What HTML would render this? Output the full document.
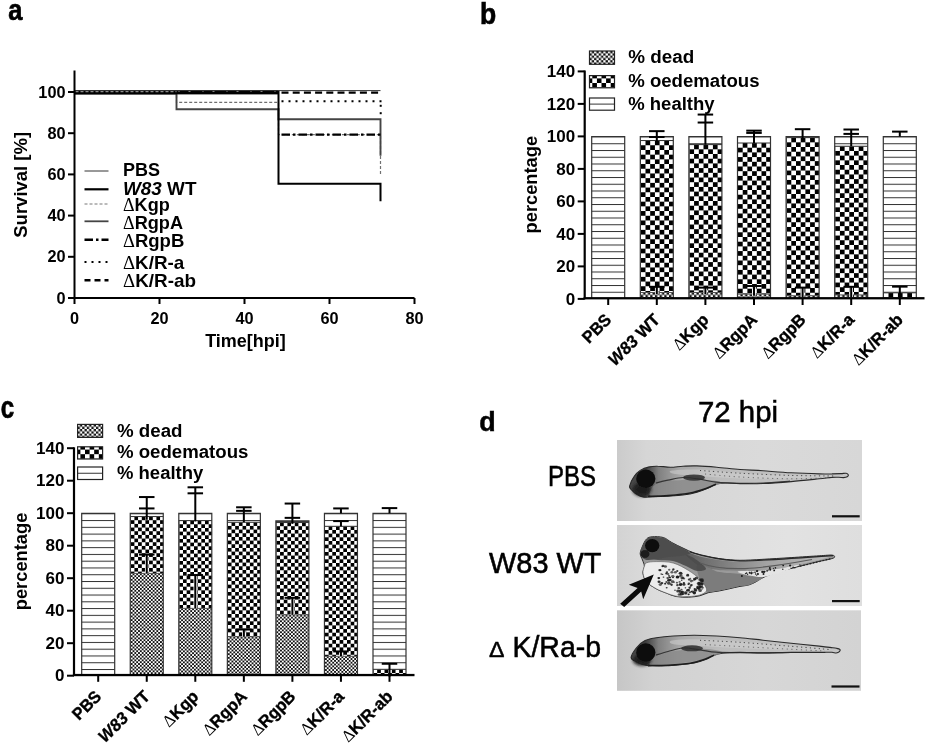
<!DOCTYPE html>
<html lang="en"><head><meta charset="utf-8"><title>Figure</title>
<style>html,body{margin:0;padding:0;background:#fff;}svg{display:block;font-family:'Liberation Sans', Arial, sans-serif;}</style>
</head><body>
<svg width="926" height="744" viewBox="0 0 926 744">
<defs>
<pattern id="p1" patternUnits="userSpaceOnUse" x="589.50" y="51.00" width="4.600" height="4.600"><rect width="4.600" height="4.600" fill="#fff"/><rect x="2.300" y="0" width="2.300" height="2.300" fill="#111"/><rect x="0" y="2.300" width="2.300" height="2.300" fill="#111"/></pattern>
<pattern id="p2" patternUnits="userSpaceOnUse" x="587.70" y="73.80" width="9.200" height="9.200"><rect width="9.200" height="9.200" fill="#fff"/><rect x="4.600" y="0" width="4.600" height="4.600" fill="#000"/><rect x="0" y="4.600" width="4.600" height="4.600" fill="#000"/></pattern>
<pattern id="p3" patternUnits="userSpaceOnUse" x="589.50" y="103.60" width="10" height="50.000"><rect width="10" height="50.000" fill="#fff"/><rect x="0" y="0" width="10" height="1" fill="#333"/></pattern>
<pattern id="p4" patternUnits="userSpaceOnUse" x="591.70" y="136.50" width="10" height="6.750"><rect width="10" height="6.750" fill="#fff"/><rect x="0" y="0" width="10" height="1" fill="#333"/></pattern>
<pattern id="p5" patternUnits="userSpaceOnUse" x="640.30" y="136.50" width="10" height="6.750"><rect width="10" height="6.750" fill="#fff"/><rect x="0" y="0" width="10" height="1" fill="#333"/></pattern>
<pattern id="p6" patternUnits="userSpaceOnUse" x="640.80" y="140.56" width="9.400" height="9.400"><rect width="9.400" height="9.400" fill="#fff"/><rect x="4.700" y="0" width="4.700" height="4.700" fill="#000"/><rect x="0" y="4.700" width="4.700" height="4.700" fill="#000"/></pattern>
<pattern id="p7" patternUnits="userSpaceOnUse" x="640.80" y="292.50" width="4.700" height="4.700"><rect width="4.700" height="4.700" fill="#fff"/><rect x="2.350" y="0" width="2.350" height="2.350" fill="#111"/><rect x="0" y="2.350" width="2.350" height="2.350" fill="#111"/></pattern>
<pattern id="p8" patternUnits="userSpaceOnUse" x="688.90" y="136.50" width="10" height="6.750"><rect width="10" height="6.750" fill="#fff"/><rect x="0" y="0" width="10" height="1" fill="#333"/></pattern>
<pattern id="p9" patternUnits="userSpaceOnUse" x="689.40" y="144.62" width="9.400" height="9.400"><rect width="9.400" height="9.400" fill="#fff"/><rect x="4.700" y="0" width="4.700" height="4.700" fill="#000"/><rect x="0" y="4.700" width="4.700" height="4.700" fill="#000"/></pattern>
<pattern id="p10" patternUnits="userSpaceOnUse" x="689.40" y="292.50" width="4.700" height="4.700"><rect width="4.700" height="4.700" fill="#fff"/><rect x="2.350" y="0" width="2.350" height="2.350" fill="#111"/><rect x="0" y="2.350" width="2.350" height="2.350" fill="#111"/></pattern>
<pattern id="p11" patternUnits="userSpaceOnUse" x="737.50" y="136.50" width="10" height="6.750"><rect width="10" height="6.750" fill="#fff"/><rect x="0" y="0" width="10" height="1" fill="#333"/></pattern>
<pattern id="p12" patternUnits="userSpaceOnUse" x="738.00" y="143.00" width="9.400" height="9.400"><rect width="9.400" height="9.400" fill="#fff"/><rect x="4.700" y="0" width="4.700" height="4.700" fill="#000"/><rect x="0" y="4.700" width="4.700" height="4.700" fill="#000"/></pattern>
<pattern id="p13" patternUnits="userSpaceOnUse" x="738.00" y="294.12" width="4.700" height="4.700"><rect width="4.700" height="4.700" fill="#fff"/><rect x="2.350" y="0" width="2.350" height="2.350" fill="#111"/><rect x="0" y="2.350" width="2.350" height="2.350" fill="#111"/></pattern>
<pattern id="p14" patternUnits="userSpaceOnUse" x="786.10" y="136.50" width="10" height="6.750"><rect width="10" height="6.750" fill="#fff"/><rect x="0" y="0" width="10" height="1" fill="#333"/></pattern>
<pattern id="p15" patternUnits="userSpaceOnUse" x="786.60" y="137.64" width="9.400" height="9.400"><rect width="9.400" height="9.400" fill="#fff"/><rect x="4.700" y="0" width="4.700" height="4.700" fill="#000"/><rect x="0" y="4.700" width="4.700" height="4.700" fill="#000"/></pattern>
<pattern id="p16" patternUnits="userSpaceOnUse" x="786.60" y="295.75" width="4.700" height="4.700"><rect width="4.700" height="4.700" fill="#fff"/><rect x="2.350" y="0" width="2.350" height="2.350" fill="#111"/><rect x="0" y="2.350" width="2.350" height="2.350" fill="#111"/></pattern>
<pattern id="p17" patternUnits="userSpaceOnUse" x="834.70" y="136.50" width="10" height="6.750"><rect width="10" height="6.750" fill="#fff"/><rect x="0" y="0" width="10" height="1" fill="#333"/></pattern>
<pattern id="p18" patternUnits="userSpaceOnUse" x="835.20" y="146.25" width="9.400" height="9.400"><rect width="9.400" height="9.400" fill="#fff"/><rect x="4.700" y="0" width="4.700" height="4.700" fill="#000"/><rect x="0" y="4.700" width="4.700" height="4.700" fill="#000"/></pattern>
<pattern id="p19" patternUnits="userSpaceOnUse" x="835.20" y="294.94" width="4.700" height="4.700"><rect width="4.700" height="4.700" fill="#fff"/><rect x="2.350" y="0" width="2.350" height="2.350" fill="#111"/><rect x="0" y="2.350" width="2.350" height="2.350" fill="#111"/></pattern>
<pattern id="p20" patternUnits="userSpaceOnUse" x="883.30" y="136.50" width="10" height="6.750"><rect width="10" height="6.750" fill="#fff"/><rect x="0" y="0" width="10" height="1" fill="#333"/></pattern>
<pattern id="p21" patternUnits="userSpaceOnUse" x="883.80" y="292.82" width="9.400" height="9.400"><rect width="9.400" height="9.400" fill="#fff"/><rect x="4.700" y="0" width="4.700" height="4.700" fill="#000"/><rect x="0" y="4.700" width="4.700" height="4.700" fill="#000"/></pattern>
<pattern id="p22" patternUnits="userSpaceOnUse" x="77.60" y="424.40" width="4.600" height="4.600"><rect width="4.600" height="4.600" fill="#fff"/><rect x="2.300" y="0" width="2.300" height="2.300" fill="#111"/><rect x="0" y="2.300" width="2.300" height="2.300" fill="#111"/></pattern>
<pattern id="p23" patternUnits="userSpaceOnUse" x="75.80" y="445.00" width="9.200" height="9.200"><rect width="9.200" height="9.200" fill="#fff"/><rect x="4.600" y="0" width="4.600" height="4.600" fill="#000"/><rect x="0" y="4.600" width="4.600" height="4.600" fill="#000"/></pattern>
<pattern id="p24" patternUnits="userSpaceOnUse" x="77.60" y="472.75" width="10" height="50.000"><rect width="10" height="50.000" fill="#fff"/><rect x="0" y="0" width="10" height="1" fill="#333"/></pattern>
<pattern id="p25" patternUnits="userSpaceOnUse" x="81.70" y="513.30" width="10" height="6.770"><rect width="10" height="6.770" fill="#fff"/><rect x="0" y="0" width="10" height="1" fill="#333"/></pattern>
<pattern id="p26" patternUnits="userSpaceOnUse" x="130.25" y="513.30" width="10" height="6.770"><rect width="10" height="6.770" fill="#fff"/><rect x="0" y="0" width="10" height="1" fill="#333"/></pattern>
<pattern id="p27" patternUnits="userSpaceOnUse" x="130.75" y="516.55" width="7.340" height="7.340"><rect width="7.340" height="7.340" fill="#fff"/><rect x="3.670" y="0" width="3.670" height="3.670" fill="#000"/><rect x="0" y="3.670" width="3.670" height="3.670" fill="#000"/></pattern>
<pattern id="p28" patternUnits="userSpaceOnUse" x="130.75" y="573.42" width="3.660" height="3.660"><rect width="3.660" height="3.660" fill="#fff"/><rect x="1.830" y="0" width="1.830" height="1.830" fill="#111"/><rect x="0" y="1.830" width="1.830" height="1.830" fill="#111"/></pattern>
<pattern id="p29" patternUnits="userSpaceOnUse" x="178.80" y="513.30" width="10" height="6.770"><rect width="10" height="6.770" fill="#fff"/><rect x="0" y="0" width="10" height="1" fill="#333"/></pattern>
<pattern id="p30" patternUnits="userSpaceOnUse" x="179.30" y="520.61" width="7.340" height="7.340"><rect width="7.340" height="7.340" fill="#fff"/><rect x="3.670" y="0" width="3.670" height="3.670" fill="#000"/><rect x="0" y="3.670" width="3.670" height="3.670" fill="#000"/></pattern>
<pattern id="p31" patternUnits="userSpaceOnUse" x="179.30" y="608.36" width="3.660" height="3.660"><rect width="3.660" height="3.660" fill="#fff"/><rect x="1.830" y="0" width="1.830" height="1.830" fill="#111"/><rect x="0" y="1.830" width="1.830" height="1.830" fill="#111"/></pattern>
<pattern id="p32" patternUnits="userSpaceOnUse" x="227.35" y="513.30" width="10" height="6.770"><rect width="10" height="6.770" fill="#fff"/><rect x="0" y="0" width="10" height="1" fill="#333"/></pattern>
<pattern id="p33" patternUnits="userSpaceOnUse" x="227.85" y="522.24" width="7.340" height="7.340"><rect width="7.340" height="7.340" fill="#fff"/><rect x="3.670" y="0" width="3.670" height="3.670" fill="#000"/><rect x="0" y="3.670" width="3.670" height="3.670" fill="#000"/></pattern>
<pattern id="p34" patternUnits="userSpaceOnUse" x="227.85" y="636.80" width="3.660" height="3.660"><rect width="3.660" height="3.660" fill="#fff"/><rect x="1.830" y="0" width="1.830" height="1.830" fill="#111"/><rect x="0" y="1.830" width="1.830" height="1.830" fill="#111"/></pattern>
<pattern id="p35" patternUnits="userSpaceOnUse" x="275.90" y="520.94" width="10" height="6.770"><rect width="10" height="6.770" fill="#fff"/><rect x="0" y="0" width="10" height="1" fill="#333"/></pattern>
<pattern id="p36" patternUnits="userSpaceOnUse" x="276.40" y="522.56" width="7.340" height="7.340"><rect width="7.340" height="7.340" fill="#fff"/><rect x="3.670" y="0" width="3.670" height="3.670" fill="#000"/><rect x="0" y="3.670" width="3.670" height="3.670" fill="#000"/></pattern>
<pattern id="p37" patternUnits="userSpaceOnUse" x="276.40" y="614.86" width="3.660" height="3.660"><rect width="3.660" height="3.660" fill="#fff"/><rect x="1.830" y="0" width="1.830" height="1.830" fill="#111"/><rect x="0" y="1.830" width="1.830" height="1.830" fill="#111"/></pattern>
<pattern id="p38" patternUnits="userSpaceOnUse" x="324.45" y="513.30" width="10" height="6.770"><rect width="10" height="6.770" fill="#fff"/><rect x="0" y="0" width="10" height="1" fill="#333"/></pattern>
<pattern id="p39" patternUnits="userSpaceOnUse" x="324.95" y="526.30" width="7.340" height="7.340"><rect width="7.340" height="7.340" fill="#fff"/><rect x="3.670" y="0" width="3.670" height="3.670" fill="#000"/><rect x="0" y="3.670" width="3.670" height="3.670" fill="#000"/></pattern>
<pattern id="p40" patternUnits="userSpaceOnUse" x="324.95" y="656.30" width="3.660" height="3.660"><rect width="3.660" height="3.660" fill="#fff"/><rect x="1.830" y="0" width="1.830" height="1.830" fill="#111"/><rect x="0" y="1.830" width="1.830" height="1.830" fill="#111"/></pattern>
<pattern id="p41" patternUnits="userSpaceOnUse" x="373.00" y="513.30" width="10" height="6.770"><rect width="10" height="6.770" fill="#fff"/><rect x="0" y="0" width="10" height="1" fill="#333"/></pattern>
<pattern id="p42" patternUnits="userSpaceOnUse" x="373.50" y="669.30" width="7.340" height="7.340"><rect width="7.340" height="7.340" fill="#fff"/><rect x="3.670" y="0" width="3.670" height="3.670" fill="#000"/><rect x="0" y="3.670" width="3.670" height="3.670" fill="#000"/></pattern>
</defs>
<rect x="0" y="0" width="926" height="744" fill="#fff"/>
<g id="panel-a">
<text x="8.30" y="19.60" font-size="30" font-weight="bold" text-anchor="start" fill="#000" textLength="14.2" lengthAdjust="spacingAndGlyphs" stroke="#000" stroke-width="0.7">a</text>
<path d="M74.5 92.0 H176.5 V102.29999999999998 H278.5 V134.642 H380.5 V174.39999999999998" fill="none" stroke="#707070" stroke-width="1.2" stroke-dasharray="3 2"/>
<path d="M74.5 93.44200000000001 H176.5 V109.304 H278.5 V119.19200000000001 H380.5 V155.85999999999999" fill="none" stroke="#444" stroke-width="1.9"/>
<path d="M281.5 101.26999999999998 H381.5" fill="none" stroke="#000" stroke-width="2" stroke-dasharray="2 5"/>
<rect x="379.70" y="104.80" width="2.00" height="2.00" fill="#000" />
<rect x="379.70" y="112.20" width="2.00" height="2.00" fill="#000" />
<path d="M281.5 134.642 H380.5" fill="none" stroke="#000" stroke-width="2.4" stroke-dasharray="8.5 3 2.5 3"/>
<path d="M74.5 92.0 H278.5 V183.67000000000002 H380.5 V201.18" fill="none" stroke="#000" stroke-width="2"/>
<rect x="74.50" y="90.00" width="204.00" height="4.40" fill="#000" />
<line x1="75.50" y1="91.70" x2="176.50" y2="91.70" stroke="#bbb" stroke-width="1" stroke-dasharray="3 2"/>
<line x1="178.50" y1="91.20" x2="276.50" y2="91.20" stroke="#ddd" stroke-width="0.9" stroke-dasharray="1 9 2 12"/>
<line x1="281.50" y1="92.70" x2="379.50" y2="92.70" stroke="#000" stroke-width="2.3" stroke-dasharray="7 4.2"/>
<line x1="74.50" y1="90.60" x2="380.50" y2="90.60" stroke="#333" stroke-width="1" />
<rect x="73.50" y="70.50" width="2.00" height="228.50" fill="#000" />
<rect x="73.50" y="297.00" width="341.00" height="2.00" fill="#000" />
<rect x="68.00" y="297.00" width="6.50" height="2.00" fill="#000" />
<text x="65.50" y="303.60" font-size="16.3" font-weight="bold" text-anchor="end" fill="#000" >0</text>
<rect x="68.00" y="255.80" width="6.50" height="2.00" fill="#000" />
<text x="65.50" y="262.40" font-size="16.3" font-weight="bold" text-anchor="end" fill="#000" >20</text>
<rect x="68.00" y="214.60" width="6.50" height="2.00" fill="#000" />
<text x="65.50" y="221.20" font-size="16.3" font-weight="bold" text-anchor="end" fill="#000" >40</text>
<rect x="68.00" y="173.40" width="6.50" height="2.00" fill="#000" />
<text x="65.50" y="180.00" font-size="16.3" font-weight="bold" text-anchor="end" fill="#000" >60</text>
<rect x="68.00" y="132.20" width="6.50" height="2.00" fill="#000" />
<text x="65.50" y="138.80" font-size="16.3" font-weight="bold" text-anchor="end" fill="#000" >80</text>
<rect x="68.00" y="91.00" width="6.50" height="2.00" fill="#000" />
<text x="65.50" y="97.60" font-size="16.3" font-weight="bold" text-anchor="end" fill="#000" >100</text>
<rect x="73.50" y="298.00" width="2.00" height="6.00" fill="#000" />
<text x="74.50" y="324.00" font-size="16.3" font-weight="bold" text-anchor="middle" fill="#000" >0</text>
<rect x="158.50" y="298.00" width="2.00" height="6.00" fill="#000" />
<text x="159.50" y="324.00" font-size="16.3" font-weight="bold" text-anchor="middle" fill="#000" >20</text>
<rect x="243.50" y="298.00" width="2.00" height="6.00" fill="#000" />
<text x="244.50" y="324.00" font-size="16.3" font-weight="bold" text-anchor="middle" fill="#000" >40</text>
<rect x="328.50" y="298.00" width="2.00" height="6.00" fill="#000" />
<text x="329.50" y="324.00" font-size="16.3" font-weight="bold" text-anchor="middle" fill="#000" >60</text>
<rect x="413.50" y="298.00" width="2.00" height="6.00" fill="#000" />
<text x="414.50" y="324.00" font-size="16.3" font-weight="bold" text-anchor="middle" fill="#000" >80</text>
<text x="245.50" y="347.30" font-size="18" font-weight="bold" text-anchor="middle" fill="#000" >Time[hpi]</text>
<text transform="translate(26.5 184.8) rotate(-90)" font-size="18.5" font-weight="bold" text-anchor="middle">Survival [%]</text>
<line x1="84.50" y1="171.00" x2="108.50" y2="171.00" stroke="#333" stroke-width="1" />
<text x="123.00" y="176.20" font-size="17.8" font-weight="bold" text-anchor="start" fill="#000"  textLength="37" lengthAdjust="spacingAndGlyphs">PBS</text>
<line x1="84.50" y1="189.30" x2="108.50" y2="189.30" stroke="#000" stroke-width="2.2" />
<text x="123.00" y="194.50" font-size="17.8" font-weight="bold" text-anchor="start" fill="#000"  textLength="73.5" lengthAdjust="spacingAndGlyphs"><tspan font-style="italic">W83</tspan> WT</text>
<line x1="84.50" y1="204.00" x2="108.50" y2="204.00" stroke="#777" stroke-width="1" stroke-dasharray="3 2"/>
<text x="123.00" y="210.60" font-size="17.8" font-weight="bold" text-anchor="start" fill="#000"  textLength="46.8" lengthAdjust="spacingAndGlyphs"><tspan font-weight="normal" stroke="none" font-family="'Liberation Serif', 'DejaVu Serif', serif">Δ</tspan>Kgp</text>
<line x1="84.50" y1="221.30" x2="108.50" y2="221.30" stroke="#444" stroke-width="1.8" />
<text x="123.00" y="228.50" font-size="17.8" font-weight="bold" text-anchor="start" fill="#000"  textLength="60" lengthAdjust="spacingAndGlyphs"><tspan font-weight="normal" stroke="none" font-family="'Liberation Serif', 'DejaVu Serif', serif">Δ</tspan>RgpA</text>
<line x1="84.50" y1="239.80" x2="108.50" y2="239.80" stroke="#000" stroke-width="2.4" stroke-dasharray="8.5 3 2.5 3"/>
<text x="123.00" y="247.20" font-size="17.8" font-weight="bold" text-anchor="start" fill="#000"  textLength="61.3" lengthAdjust="spacingAndGlyphs"><tspan font-weight="normal" stroke="none" font-family="'Liberation Serif', 'DejaVu Serif', serif">Δ</tspan>RgpB</text>
<line x1="84.50" y1="262.00" x2="108.50" y2="262.00" stroke="#000" stroke-width="2" stroke-dasharray="2 5"/>
<text x="123.00" y="268.50" font-size="17.8" font-weight="bold" text-anchor="start" fill="#000"  textLength="61.3" lengthAdjust="spacingAndGlyphs"><tspan font-weight="normal" stroke="none" font-family="'Liberation Serif', 'DejaVu Serif', serif">Δ</tspan>K/R-a</text>
<line x1="84.50" y1="280.30" x2="108.50" y2="280.30" stroke="#000" stroke-width="2.6" stroke-dasharray="6 4"/>
<text x="123.00" y="287.00" font-size="17.8" font-weight="bold" text-anchor="start" fill="#000"  textLength="73" lengthAdjust="spacingAndGlyphs"><tspan font-weight="normal" stroke="none" font-family="'Liberation Serif', 'DejaVu Serif', serif">Δ</tspan>K/R-ab</text>
</g>
<g id="panel-b">
<rect x="589.50" y="51.00" width="25.00" height="13.30" fill="url(#p1)" stroke="#222" stroke-width="1.2"/>
<text x="628.20" y="63.40" font-size="17.6" font-weight="bold" text-anchor="start" fill="#000"  textLength="66" lengthAdjust="spacingAndGlyphs">% dead</text>
<rect x="589.50" y="75.60" width="25.00" height="12.20" fill="url(#p2)" stroke="#222" stroke-width="1.2"/>
<text x="628.20" y="87.00" font-size="17.6" font-weight="bold" text-anchor="start" fill="#000"  textLength="131.3" lengthAdjust="spacingAndGlyphs">% oedematous</text>
<rect x="589.50" y="98.00" width="25.00" height="12.20" fill="url(#p3)" stroke="#222" stroke-width="1.2"/>
<text x="628.20" y="110.00" font-size="17.6" font-weight="bold" text-anchor="start" fill="#000"  textLength="86.4" lengthAdjust="spacingAndGlyphs">% healthy</text>
<rect x="591.70" y="136.50" width="33.00" height="162.50" fill="url(#p4)" />
<path d="M591.70 299.00 V136.50 H624.70 V299.00" fill="none" stroke="#333" stroke-width="1.2"/>
<rect x="640.30" y="136.50" width="33.00" height="4.06" fill="url(#p5)" />
<rect x="640.30" y="140.56" width="33.00" height="151.94" fill="url(#p6)" />
<line x1="640.30" y1="140.56" x2="673.30" y2="140.56" stroke="#333" stroke-width="1" />
<rect x="640.30" y="292.50" width="33.00" height="6.50" fill="url(#p7)" />
<line x1="640.30" y1="292.50" x2="673.30" y2="292.50" stroke="#555" stroke-width="1" />
<path d="M640.30 299.00 V136.50 H673.30 V299.00" fill="none" stroke="#333" stroke-width="1.2"/>
<rect x="649.05" y="130.14" width="15.50" height="2.00" fill="#000" />
<rect x="655.80" y="131.14" width="2.00" height="11.86" fill="#000" />
<rect x="655.00" y="286.81" width="3.60" height="7.31" fill="#fff" />
<rect x="649.05" y="285.81" width="15.50" height="2.00" fill="#000" />
<rect x="655.80" y="286.81" width="2.00" height="7.31" fill="#000" />
<rect x="649.05" y="135.99" width="15.50" height="2.00" fill="#000" />
<rect x="688.90" y="136.50" width="33.00" height="8.12" fill="url(#p8)" />
<rect x="688.90" y="144.62" width="33.00" height="147.88" fill="url(#p9)" />
<line x1="688.90" y1="144.62" x2="721.90" y2="144.62" stroke="#333" stroke-width="1" />
<rect x="688.90" y="292.50" width="33.00" height="6.50" fill="url(#p10)" />
<line x1="688.90" y1="292.50" x2="721.90" y2="292.50" stroke="#555" stroke-width="1" />
<path d="M688.90 299.00 V136.50 H721.90 V299.00" fill="none" stroke="#333" stroke-width="1.2"/>
<rect x="697.65" y="113.56" width="15.50" height="2.00" fill="#000" />
<rect x="704.40" y="114.56" width="2.00" height="30.06" fill="#000" />
<rect x="703.60" y="287.62" width="3.60" height="6.50" fill="#fff" />
<rect x="697.65" y="286.62" width="15.50" height="2.00" fill="#000" />
<rect x="704.40" y="287.62" width="2.00" height="6.50" fill="#000" />
<rect x="697.65" y="121.53" width="15.50" height="2.00" fill="#000" />
<rect x="737.50" y="136.50" width="33.00" height="6.50" fill="url(#p11)" />
<rect x="737.50" y="143.00" width="33.00" height="151.12" fill="url(#p12)" />
<line x1="737.50" y1="143.00" x2="770.50" y2="143.00" stroke="#333" stroke-width="1" />
<rect x="737.50" y="294.12" width="33.00" height="4.88" fill="url(#p13)" />
<line x1="737.50" y1="294.12" x2="770.50" y2="294.12" stroke="#555" stroke-width="1" />
<path d="M737.50 299.00 V136.50 H770.50 V299.00" fill="none" stroke="#333" stroke-width="1.2"/>
<rect x="746.25" y="129.65" width="15.50" height="2.00" fill="#000" />
<rect x="753.00" y="130.65" width="2.00" height="12.35" fill="#000" />
<rect x="752.20" y="286.00" width="3.60" height="9.75" fill="#fff" />
<rect x="746.25" y="285.00" width="15.50" height="2.00" fill="#000" />
<rect x="753.00" y="286.00" width="2.00" height="9.75" fill="#000" />
<rect x="746.25" y="131.92" width="15.50" height="2.00" fill="#000" />
<rect x="786.10" y="136.50" width="33.00" height="1.14" fill="url(#p14)" />
<rect x="786.10" y="137.64" width="33.00" height="158.11" fill="url(#p15)" />
<line x1="786.10" y1="137.64" x2="819.10" y2="137.64" stroke="#333" stroke-width="1" />
<rect x="786.10" y="295.75" width="33.00" height="3.25" fill="url(#p16)" />
<line x1="786.10" y1="295.75" x2="819.10" y2="295.75" stroke="#555" stroke-width="1" />
<path d="M786.10 299.00 V136.50 H819.10 V299.00" fill="none" stroke="#333" stroke-width="1.2"/>
<rect x="794.85" y="128.19" width="15.50" height="2.00" fill="#000" />
<rect x="801.60" y="129.19" width="2.00" height="8.94" fill="#000" />
<rect x="800.80" y="287.62" width="3.60" height="9.75" fill="#fff" />
<rect x="794.85" y="286.62" width="15.50" height="2.00" fill="#000" />
<rect x="801.60" y="287.62" width="2.00" height="9.75" fill="#000" />
<rect x="834.70" y="136.50" width="33.00" height="9.75" fill="url(#p17)" />
<rect x="834.70" y="146.25" width="33.00" height="148.69" fill="url(#p18)" />
<line x1="834.70" y1="146.25" x2="867.70" y2="146.25" stroke="#333" stroke-width="1" />
<rect x="834.70" y="294.94" width="33.00" height="4.06" fill="url(#p19)" />
<line x1="834.70" y1="294.94" x2="867.70" y2="294.94" stroke="#555" stroke-width="1" />
<path d="M834.70 299.00 V136.50 H867.70 V299.00" fill="none" stroke="#333" stroke-width="1.2"/>
<rect x="843.45" y="128.51" width="15.50" height="2.00" fill="#000" />
<rect x="850.20" y="129.51" width="2.00" height="16.74" fill="#000" />
<rect x="849.40" y="286.81" width="3.60" height="10.56" fill="#fff" />
<rect x="843.45" y="285.81" width="15.50" height="2.00" fill="#000" />
<rect x="850.20" y="286.81" width="2.00" height="10.56" fill="#000" />
<rect x="843.45" y="132.90" width="15.50" height="2.00" fill="#000" />
<rect x="883.30" y="136.50" width="33.00" height="156.32" fill="url(#p20)" />
<rect x="883.30" y="292.82" width="33.00" height="6.18" fill="url(#p21)" />
<line x1="883.30" y1="292.82" x2="916.30" y2="292.82" stroke="#333" stroke-width="1" />
<path d="M883.30 299.00 V136.50 H916.30 V299.00" fill="none" stroke="#333" stroke-width="1.2"/>
<rect x="892.05" y="130.62" width="15.50" height="2.00" fill="#000" />
<rect x="898.80" y="131.62" width="2.00" height="4.88" fill="#000" />
<rect x="892.05" y="285.65" width="15.50" height="2.00" fill="#000" />
<rect x="898.80" y="286.65" width="2.00" height="12.35" fill="#000" />
<rect x="583.60" y="70.50" width="2.20" height="228.70" fill="#000" />
<rect x="583.60" y="297.10" width="340.90" height="2.30" fill="#000" />
<rect x="577.70" y="297.90" width="7.00" height="2.00" fill="#000" />
<text x="575.10" y="304.60" font-size="17" font-weight="bold" text-anchor="end" fill="#000" >0</text>
<rect x="577.70" y="265.40" width="7.00" height="2.00" fill="#000" />
<text x="575.10" y="272.10" font-size="17" font-weight="bold" text-anchor="end" fill="#000" >20</text>
<rect x="577.70" y="232.90" width="7.00" height="2.00" fill="#000" />
<text x="575.10" y="239.60" font-size="17" font-weight="bold" text-anchor="end" fill="#000" >40</text>
<rect x="577.70" y="200.40" width="7.00" height="2.00" fill="#000" />
<text x="575.10" y="207.10" font-size="17" font-weight="bold" text-anchor="end" fill="#000" >60</text>
<rect x="577.70" y="167.90" width="7.00" height="2.00" fill="#000" />
<text x="575.10" y="174.60" font-size="17" font-weight="bold" text-anchor="end" fill="#000" >80</text>
<rect x="577.70" y="135.40" width="7.00" height="2.00" fill="#000" />
<text x="575.10" y="142.10" font-size="17" font-weight="bold" text-anchor="end" fill="#000" >100</text>
<rect x="577.70" y="102.90" width="7.00" height="2.00" fill="#000" />
<text x="575.10" y="109.60" font-size="17" font-weight="bold" text-anchor="end" fill="#000" >120</text>
<rect x="577.70" y="70.40" width="7.00" height="2.00" fill="#000" />
<text x="575.10" y="77.10" font-size="17" font-weight="bold" text-anchor="end" fill="#000" >140</text>
<rect x="607.20" y="299.00" width="2.00" height="6.00" fill="#000" />
<text transform="translate(612.40 320.80) rotate(-45)" stroke="#000" stroke-width="0.35" font-size="17" font-weight="bold" text-anchor="end" textLength="33" lengthAdjust="spacingAndGlyphs">PBS</text>
<rect x="655.80" y="299.00" width="2.00" height="6.00" fill="#000" />
<text transform="translate(661.00 320.80) rotate(-45)" stroke="#000" stroke-width="0.35" font-size="17" font-weight="bold" text-anchor="end" textLength="65" lengthAdjust="spacingAndGlyphs"><tspan font-style="italic">W83</tspan> WT</text>
<rect x="704.40" y="299.00" width="2.00" height="6.00" fill="#000" />
<text transform="translate(709.60 320.80) rotate(-45)" stroke="#000" stroke-width="0.35" font-size="17" font-weight="bold" text-anchor="end" textLength="43" lengthAdjust="spacingAndGlyphs"><tspan font-weight="normal" stroke="none" font-family="'Liberation Serif', 'DejaVu Serif', serif">Δ</tspan>Kgp</text>
<rect x="753.00" y="299.00" width="2.00" height="6.00" fill="#000" />
<text transform="translate(758.20 320.80) rotate(-45)" stroke="#000" stroke-width="0.35" font-size="17" font-weight="bold" text-anchor="end" textLength="55" lengthAdjust="spacingAndGlyphs"><tspan font-weight="normal" stroke="none" font-family="'Liberation Serif', 'DejaVu Serif', serif">Δ</tspan>RgpA</text>
<rect x="801.60" y="299.00" width="2.00" height="6.00" fill="#000" />
<text transform="translate(806.80 320.80) rotate(-45)" stroke="#000" stroke-width="0.35" font-size="17" font-weight="bold" text-anchor="end" textLength="55" lengthAdjust="spacingAndGlyphs"><tspan font-weight="normal" stroke="none" font-family="'Liberation Serif', 'DejaVu Serif', serif">Δ</tspan>RgpB</text>
<rect x="850.20" y="299.00" width="2.00" height="6.00" fill="#000" />
<text transform="translate(855.40 320.80) rotate(-45)" stroke="#000" stroke-width="0.35" font-size="17" font-weight="bold" text-anchor="end" textLength="54.3" lengthAdjust="spacingAndGlyphs"><tspan font-weight="normal" stroke="none" font-family="'Liberation Serif', 'DejaVu Serif', serif">Δ</tspan>K/R-a</text>
<rect x="898.80" y="299.00" width="2.00" height="6.00" fill="#000" />
<text transform="translate(904.00 320.80) rotate(-45)" stroke="#000" stroke-width="0.35" font-size="17" font-weight="bold" text-anchor="end" textLength="64.3" lengthAdjust="spacingAndGlyphs"><tspan font-weight="normal" stroke="none" font-family="'Liberation Serif', 'DejaVu Serif', serif">Δ</tspan>K/R-ab</text>
<text transform="translate(537.00 184.65) rotate(-90)" font-size="18.3" font-weight="bold" text-anchor="middle">percentage</text>
<text x="480.00" y="23.80" font-size="30" font-weight="bold" text-anchor="start" fill="#000" textLength="16.2" lengthAdjust="spacingAndGlyphs" stroke="#000" stroke-width="0.7">b</text>
</g>
<g id="panel-c">
<rect x="77.60" y="424.40" width="25.00" height="13.00" fill="url(#p22)" stroke="#222" stroke-width="1.2"/>
<text x="117.00" y="436.80" font-size="17.6" font-weight="bold" text-anchor="start" fill="#000"  textLength="65.5" lengthAdjust="spacingAndGlyphs">% dead</text>
<rect x="77.60" y="446.80" width="25.00" height="12.20" fill="url(#p23)" stroke="#222" stroke-width="1.2"/>
<text x="117.00" y="457.60" font-size="17.6" font-weight="bold" text-anchor="start" fill="#000"  textLength="131.4" lengthAdjust="spacingAndGlyphs">% oedematous</text>
<rect x="77.60" y="467.00" width="25.00" height="12.50" fill="url(#p24)" stroke="#222" stroke-width="1.2"/>
<text x="117.00" y="478.80" font-size="17.6" font-weight="bold" text-anchor="start" fill="#000"  textLength="86.3" lengthAdjust="spacingAndGlyphs">% healthy</text>
<rect x="81.70" y="513.30" width="33.00" height="162.50" fill="url(#p25)" />
<path d="M81.70 675.80 V513.30 H114.70 V675.80" fill="none" stroke="#333" stroke-width="1.2"/>
<rect x="130.25" y="513.30" width="33.00" height="3.25" fill="url(#p26)" />
<rect x="130.25" y="516.55" width="33.00" height="56.88" fill="url(#p27)" />
<line x1="130.25" y1="516.55" x2="163.25" y2="516.55" stroke="#333" stroke-width="1" />
<rect x="130.25" y="573.42" width="33.00" height="102.38" fill="url(#p28)" />
<line x1="130.25" y1="573.42" x2="163.25" y2="573.42" stroke="#555" stroke-width="1" />
<path d="M130.25 675.80 V513.30 H163.25 V675.80" fill="none" stroke="#333" stroke-width="1.2"/>
<rect x="139.00" y="496.05" width="15.50" height="2.00" fill="#000" />
<rect x="145.75" y="497.05" width="2.00" height="22.75" fill="#000" />
<rect x="144.95" y="554.57" width="3.60" height="18.85" fill="#fff" />
<rect x="139.00" y="553.57" width="15.50" height="2.00" fill="#000" />
<rect x="145.75" y="554.57" width="2.00" height="18.85" fill="#000" />
<rect x="139.00" y="507.42" width="15.50" height="2.00" fill="#000" />
<rect x="178.80" y="513.30" width="33.00" height="7.31" fill="url(#p29)" />
<rect x="178.80" y="520.61" width="33.00" height="87.75" fill="url(#p30)" />
<line x1="178.80" y1="520.61" x2="211.80" y2="520.61" stroke="#333" stroke-width="1" />
<rect x="178.80" y="608.36" width="33.00" height="67.44" fill="url(#p31)" />
<line x1="178.80" y1="608.36" x2="211.80" y2="608.36" stroke="#555" stroke-width="1" />
<path d="M178.80 675.80 V513.30 H211.80 V675.80" fill="none" stroke="#333" stroke-width="1.2"/>
<rect x="187.55" y="486.30" width="15.50" height="2.00" fill="#000" />
<rect x="194.30" y="487.30" width="2.00" height="34.12" fill="#000" />
<rect x="193.50" y="575.05" width="3.60" height="33.31" fill="#fff" />
<rect x="187.55" y="574.05" width="15.50" height="2.00" fill="#000" />
<rect x="194.30" y="575.05" width="2.00" height="33.31" fill="#000" />
<rect x="187.55" y="492.31" width="15.50" height="2.00" fill="#000" />
<rect x="227.35" y="513.30" width="33.00" height="8.94" fill="url(#p32)" />
<rect x="227.35" y="522.24" width="33.00" height="114.56" fill="url(#p33)" />
<line x1="227.35" y1="522.24" x2="260.35" y2="522.24" stroke="#333" stroke-width="1" />
<rect x="227.35" y="636.80" width="33.00" height="39.00" fill="url(#p34)" />
<line x1="227.35" y1="636.80" x2="260.35" y2="636.80" stroke="#555" stroke-width="1" />
<path d="M227.35 675.80 V513.30 H260.35 V675.80" fill="none" stroke="#333" stroke-width="1.2"/>
<rect x="236.10" y="506.29" width="15.50" height="2.00" fill="#000" />
<rect x="242.85" y="507.29" width="2.00" height="14.95" fill="#000" />
<rect x="242.05" y="629.49" width="3.60" height="7.31" fill="#fff" />
<rect x="236.10" y="628.49" width="15.50" height="2.00" fill="#000" />
<rect x="242.85" y="629.49" width="2.00" height="7.31" fill="#000" />
<rect x="236.10" y="509.86" width="15.50" height="2.00" fill="#000" />
<rect x="275.90" y="520.94" width="33.00" height="1.62" fill="url(#p35)" />
<rect x="275.90" y="522.56" width="33.00" height="92.30" fill="url(#p36)" />
<line x1="275.90" y1="522.56" x2="308.90" y2="522.56" stroke="#333" stroke-width="1" />
<rect x="275.90" y="614.86" width="33.00" height="60.94" fill="url(#p37)" />
<line x1="275.90" y1="614.86" x2="308.90" y2="614.86" stroke="#555" stroke-width="1" />
<path d="M275.90 675.80 V520.94 H308.90 V675.80" fill="none" stroke="#333" stroke-width="1.2"/>
<rect x="284.65" y="502.55" width="15.50" height="2.00" fill="#000" />
<rect x="291.40" y="503.55" width="2.00" height="20.31" fill="#000" />
<rect x="290.60" y="597.80" width="3.60" height="17.06" fill="#fff" />
<rect x="284.65" y="596.80" width="15.50" height="2.00" fill="#000" />
<rect x="291.40" y="597.80" width="2.00" height="17.06" fill="#000" />
<rect x="284.65" y="516.85" width="15.50" height="2.00" fill="#000" />
<rect x="324.45" y="513.30" width="33.00" height="13.00" fill="url(#p38)" />
<rect x="324.45" y="526.30" width="33.00" height="130.00" fill="url(#p39)" />
<line x1="324.45" y1="526.30" x2="357.45" y2="526.30" stroke="#333" stroke-width="1" />
<rect x="324.45" y="656.30" width="33.00" height="19.50" fill="url(#p40)" />
<line x1="324.45" y1="656.30" x2="357.45" y2="656.30" stroke="#555" stroke-width="1" />
<path d="M324.45 675.80 V513.30 H357.45 V675.80" fill="none" stroke="#333" stroke-width="1.2"/>
<rect x="333.20" y="507.42" width="15.50" height="2.00" fill="#000" />
<rect x="339.95" y="508.42" width="2.00" height="4.88" fill="#000" />
<rect x="333.20" y="520.10" width="15.50" height="2.00" fill="#000" />
<rect x="339.95" y="521.10" width="2.00" height="5.20" fill="#000" />
<rect x="339.15" y="651.42" width="3.60" height="4.88" fill="#fff" />
<rect x="333.20" y="650.42" width="15.50" height="2.00" fill="#000" />
<rect x="339.95" y="651.42" width="2.00" height="4.88" fill="#000" />
<rect x="373.00" y="513.30" width="33.00" height="156.00" fill="url(#p41)" />
<rect x="373.00" y="669.30" width="33.00" height="6.50" fill="url(#p42)" />
<line x1="373.00" y1="669.30" x2="406.00" y2="669.30" stroke="#333" stroke-width="1" />
<path d="M373.00 675.80 V513.30 H406.00 V675.80" fill="none" stroke="#333" stroke-width="1.2"/>
<rect x="381.75" y="507.10" width="15.50" height="2.00" fill="#000" />
<rect x="388.50" y="508.10" width="2.00" height="5.20" fill="#000" />
<rect x="381.75" y="662.77" width="15.50" height="2.00" fill="#000" />
<rect x="388.50" y="663.77" width="2.00" height="12.84" fill="#000" />
<rect x="72.90" y="447.30" width="2.20" height="228.70" fill="#000" />
<rect x="72.90" y="673.90" width="341.60" height="2.30" fill="#000" />
<rect x="67.00" y="674.70" width="7.00" height="2.00" fill="#000" />
<text x="64.40" y="681.40" font-size="17" font-weight="bold" text-anchor="end" fill="#000" >0</text>
<rect x="67.00" y="642.20" width="7.00" height="2.00" fill="#000" />
<text x="64.40" y="648.90" font-size="17" font-weight="bold" text-anchor="end" fill="#000" >20</text>
<rect x="67.00" y="609.70" width="7.00" height="2.00" fill="#000" />
<text x="64.40" y="616.40" font-size="17" font-weight="bold" text-anchor="end" fill="#000" >40</text>
<rect x="67.00" y="577.20" width="7.00" height="2.00" fill="#000" />
<text x="64.40" y="583.90" font-size="17" font-weight="bold" text-anchor="end" fill="#000" >60</text>
<rect x="67.00" y="544.70" width="7.00" height="2.00" fill="#000" />
<text x="64.40" y="551.40" font-size="17" font-weight="bold" text-anchor="end" fill="#000" >80</text>
<rect x="67.00" y="512.20" width="7.00" height="2.00" fill="#000" />
<text x="64.40" y="518.90" font-size="17" font-weight="bold" text-anchor="end" fill="#000" >100</text>
<rect x="67.00" y="479.70" width="7.00" height="2.00" fill="#000" />
<text x="64.40" y="486.40" font-size="17" font-weight="bold" text-anchor="end" fill="#000" >120</text>
<rect x="67.00" y="447.20" width="7.00" height="2.00" fill="#000" />
<text x="64.40" y="453.90" font-size="17" font-weight="bold" text-anchor="end" fill="#000" >140</text>
<rect x="97.20" y="675.80" width="2.00" height="6.00" fill="#000" />
<text transform="translate(102.40 697.60) rotate(-45)" stroke="#000" stroke-width="0.35" font-size="17" font-weight="bold" text-anchor="end" textLength="33" lengthAdjust="spacingAndGlyphs">PBS</text>
<rect x="145.75" y="675.80" width="2.00" height="6.00" fill="#000" />
<text transform="translate(150.95 697.60) rotate(-45)" stroke="#000" stroke-width="0.35" font-size="17" font-weight="bold" text-anchor="end" textLength="65" lengthAdjust="spacingAndGlyphs"><tspan font-style="italic">W83</tspan> WT</text>
<rect x="194.30" y="675.80" width="2.00" height="6.00" fill="#000" />
<text transform="translate(199.50 697.60) rotate(-45)" stroke="#000" stroke-width="0.35" font-size="17" font-weight="bold" text-anchor="end" textLength="43" lengthAdjust="spacingAndGlyphs"><tspan font-weight="normal" stroke="none" font-family="'Liberation Serif', 'DejaVu Serif', serif">Δ</tspan>Kgp</text>
<rect x="242.85" y="675.80" width="2.00" height="6.00" fill="#000" />
<text transform="translate(248.05 697.60) rotate(-45)" stroke="#000" stroke-width="0.35" font-size="17" font-weight="bold" text-anchor="end" textLength="55" lengthAdjust="spacingAndGlyphs"><tspan font-weight="normal" stroke="none" font-family="'Liberation Serif', 'DejaVu Serif', serif">Δ</tspan>RgpA</text>
<rect x="291.40" y="675.80" width="2.00" height="6.00" fill="#000" />
<text transform="translate(296.60 697.60) rotate(-45)" stroke="#000" stroke-width="0.35" font-size="17" font-weight="bold" text-anchor="end" textLength="55" lengthAdjust="spacingAndGlyphs"><tspan font-weight="normal" stroke="none" font-family="'Liberation Serif', 'DejaVu Serif', serif">Δ</tspan>RgpB</text>
<rect x="339.95" y="675.80" width="2.00" height="6.00" fill="#000" />
<text transform="translate(345.15 697.60) rotate(-45)" stroke="#000" stroke-width="0.35" font-size="17" font-weight="bold" text-anchor="end" textLength="54.3" lengthAdjust="spacingAndGlyphs"><tspan font-weight="normal" stroke="none" font-family="'Liberation Serif', 'DejaVu Serif', serif">Δ</tspan>K/R-a</text>
<rect x="388.50" y="675.80" width="2.00" height="6.00" fill="#000" />
<text transform="translate(393.70 697.60) rotate(-45)" stroke="#000" stroke-width="0.35" font-size="17" font-weight="bold" text-anchor="end" textLength="64.3" lengthAdjust="spacingAndGlyphs"><tspan font-weight="normal" stroke="none" font-family="'Liberation Serif', 'DejaVu Serif', serif">Δ</tspan>K/R-ab</text>
<text transform="translate(27.00 561.45) rotate(-90)" font-size="18.3" font-weight="bold" text-anchor="middle">percentage</text>
<text x="0.80" y="418.00" font-size="31.5" font-weight="bold" text-anchor="start" fill="#000" textLength="13.4" lengthAdjust="spacingAndGlyphs" stroke="#000" stroke-width="0.7">c</text>
</g>
<g id="panel-d">
<defs>
<filter id="bl" x="-5%" y="-20%" width="110%" height="140%"><feGaussianBlur stdDeviation="0.55"/></filter>
<filter id="bl2" x="-20%" y="-20%" width="140%" height="140%"><feGaussianBlur stdDeviation="1.6"/></filter>
<filter id="bl3" x="-20%" y="-20%" width="140%" height="140%"><feGaussianBlur stdDeviation="3"/></filter>
<linearGradient id="bg1" x1="0" x2="1" y1="0" y2="0"><stop offset="0" stop-color="#cbcbcb"/><stop offset="0.12" stop-color="#d6d6d6"/><stop offset="0.6" stop-color="#dadada"/><stop offset="1" stop-color="#d7d7d7"/></linearGradient>
<linearGradient id="bg2" x1="0" x2="1" y1="0" y2="0"><stop offset="0" stop-color="#d3d3d3"/><stop offset="0.15" stop-color="#dcdcdc"/><stop offset="0.7" stop-color="#e2e2e2"/><stop offset="1" stop-color="#dedede"/></linearGradient>
<linearGradient id="bg3" x1="0" x2="1" y1="0" y2="0"><stop offset="0" stop-color="#c6c6c6"/><stop offset="0.15" stop-color="#d2d2d2"/><stop offset="0.6" stop-color="#d7d7d7"/><stop offset="1" stop-color="#d3d3d3"/></linearGradient>
<linearGradient id="tr1" gradientUnits="userSpaceOnUse" x1="630" x2="850" y1="0" y2="0"><stop offset="0" stop-color="#4a4a4a"/><stop offset="0.07" stop-color="#3c3c3c"/><stop offset="0.13" stop-color="#808080"/><stop offset="0.22" stop-color="#a6a6a6"/><stop offset="0.4" stop-color="#bcbcbc"/><stop offset="1" stop-color="#c6c6c6"/></linearGradient>
<linearGradient id="tr2" gradientUnits="userSpaceOnUse" x1="685" x2="835" y1="0" y2="0"><stop offset="0" stop-color="#5e5e5e"/><stop offset="0.25" stop-color="#7d7d7d"/><stop offset="0.55" stop-color="#a4a4a4"/><stop offset="1" stop-color="#bcbcbc"/></linearGradient>
<clipPath id="c1"><rect x="617" y="440" width="245" height="81"/></clipPath>
<clipPath id="c2"><rect x="617" y="525" width="245" height="81"/></clipPath>
<clipPath id="c3"><rect x="617" y="610.3" width="244" height="80.5"/></clipPath>
</defs>
<text x="479.2" y="431.4" font-size="27" font-weight="bold" stroke="#000" stroke-width="0.5" textLength="16.4" lengthAdjust="spacingAndGlyphs">d</text>
<text x="698" y="422" font-size="29" stroke="#000" stroke-width="0.55" textLength="80" lengthAdjust="spacingAndGlyphs">72 hpi</text>
<text x="548" y="486.3" font-size="29" stroke="#000" stroke-width="0.55" textLength="48" lengthAdjust="spacingAndGlyphs">PBS</text>
<text x="489" y="573.4" font-size="29" stroke="#000" stroke-width="0.55" textLength="112.5" lengthAdjust="spacingAndGlyphs">W83 WT</text>
<text x="489" y="656.7" font-size="22" stroke="#000" stroke-width="0.5" textLength="15.5" lengthAdjust="spacingAndGlyphs">Δ</text>
<text x="512.5" y="656.7" font-size="29" stroke="#000" stroke-width="0.55" textLength="88.5" lengthAdjust="spacingAndGlyphs">K/Ra-b</text>
<rect x="617" y="440" width="245" height="81" fill="url(#bg1)"/>
<rect x="617" y="525" width="245" height="81" fill="url(#bg2)"/>
<rect x="617" y="610.3" width="244" height="80.5" fill="url(#bg3)"/>
<g clip-path="url(#c1)"><g filter="url(#bl)">
<path d="M629.7 485.8 C630.2 483.7 632.1 479.3 633.9 476.7 C635.6 474.1 637.6 472.0 640.2 470.4 C642.8 468.8 646.4 467.6 649.3 466.9 C652.2 466.2 654.2 466.1 657.7 466.2 C661.2 466.2 666.2 467.2 670.4 467.2 C674.6 467.2 678.6 466.4 683.0 466.2 C687.4 466.0 691.4 465.7 697.0 465.9 C702.6 466.1 709.5 466.6 716.7 467.2 C723.9 467.8 732.3 468.9 740.0 469.5 C747.7 470.1 754.5 470.2 763.0 470.8 C771.5 471.4 781.8 472.3 791.2 472.8 C800.6 473.3 812.4 473.7 819.2 473.9 C826.0 474.1 828.4 473.9 832.0 473.9 C835.6 473.8 838.6 473.7 841.0 473.6 C843.4 473.5 845.0 473.1 846.2 473.3 C847.4 473.5 848.1 474.2 848.3 474.8 C848.5 475.4 848.0 476.3 847.2 476.8 C846.4 477.3 844.9 477.5 843.5 477.6 C842.1 477.7 840.8 477.3 838.9 477.3 C837.0 477.3 835.2 477.1 831.9 477.4 C828.6 477.6 826.0 478.1 819.2 478.8 C812.4 479.5 800.6 480.8 791.2 481.6 C781.8 482.4 771.5 483.2 763.0 483.5 C754.5 483.8 746.1 483.7 740.0 483.6 C733.9 483.5 730.4 482.9 726.5 483.0 C722.6 483.1 719.7 483.1 716.7 483.9 C713.7 484.7 711.6 486.6 708.3 488.0 C705.0 489.4 701.2 491.0 697.0 492.2 C692.8 493.4 688.1 494.4 683.0 495.0 C677.9 495.6 671.4 495.8 666.2 496.1 C661.1 496.4 655.9 496.4 652.1 496.6 C648.4 496.8 646.3 497.5 643.7 497.1 C641.1 496.7 638.8 495.6 636.7 494.3 C634.6 493.0 632.3 490.7 631.1 489.3 C629.9 487.9 629.2 487.9 629.7 485.8Z" fill="url(#tr1)" stroke="#2b2b2b" stroke-width="1.1" stroke-linejoin="round"/>
<path d="M672.0 470.5 C676.2 469.8 688.7 469.1 700.0 469.5 C711.3 469.9 725.0 472.0 740.0 473.0 C755.0 474.0 774.2 475.2 790.0 475.6 C805.8 476.0 835.0 475.1 835.0 475.6 C835.0 476.1 805.8 477.9 790.0 478.4 C774.2 478.9 754.2 478.7 740.0 478.4 C725.8 478.1 715.8 477.2 705.0 476.5 C694.2 475.8 680.5 475.0 675.0 474.0 C669.5 473.0 667.8 471.2 672.0 470.5Z" fill="#d0d0d0" opacity="0.55"/>
<path d="M656.0 484.0 C660.2 481.5 667.7 481.2 675.0 480.5 C682.3 479.8 692.2 479.2 700.0 479.5 C707.8 479.8 720.7 481.2 722.0 482.5 C723.3 483.8 713.3 485.8 708.0 487.5 C702.7 489.2 696.7 491.2 690.0 492.5 C683.3 493.8 674.7 494.5 668.0 495.0 C661.3 495.5 652.0 497.3 650.0 495.5 C648.0 493.7 651.8 486.5 656.0 484.0Z" fill="#8a8a8a" opacity="0.8"/>
<path d="M656.0 483.0 C658.0 482.5 663.5 481.1 668.0 480.2 C672.5 479.3 677.7 477.7 683.0 477.5 C688.3 477.3 694.5 478.4 700.0 479.2 C705.5 480.0 709.3 481.5 716.0 482.2 C722.7 482.9 732.2 483.2 740.0 483.3 C747.8 483.4 754.7 483.4 763.0 483.0 C771.3 482.6 785.5 481.5 790.0 481.2" fill="none" stroke="#2a2a2a" stroke-width="1.2" opacity="0.9"/>
<path d="M700.0 470.5 C706.7 470.9 725.0 472.4 740.0 473.2 C755.0 474.0 774.2 474.9 790.0 475.4 C805.8 475.9 827.5 475.9 835.0 476.0" fill="none" stroke="#3a3a3a" stroke-width="1" stroke-dasharray="1.2 3.2" opacity="0.9"/>
<path d="M705.0 474.0 C710.8 474.5 725.8 476.2 740.0 477.0 C754.2 477.8 775.0 478.7 790.0 478.8 C805.0 478.9 823.3 478.0 830.0 477.8" fill="none" stroke="#555" stroke-width="0.9" stroke-dasharray="1.2 3.6" opacity="0.9"/>
<ellipse cx="694" cy="477.6" rx="11" ry="3.2" fill="#2e2e2e" opacity="0.85"/>
<path d="M648.0 496.4 C651.3 496.3 661.0 496.2 668.0 495.6 C675.0 495.0 683.7 494.2 690.0 493.0 C696.3 491.8 701.7 489.8 706.0 488.4 C710.3 486.9 714.3 485.0 716.0 484.3" fill="none" stroke="#1f1f1f" stroke-width="1.6"/>
<ellipse cx="641.8" cy="489.5" rx="9.5" ry="7" fill="#1e1e1e" opacity="0.9" filter="url(#bl2)"/>
<ellipse cx="645.8" cy="478.8" rx="9.6" ry="9.2" fill="#0c0c0c"/>
</g></g>
<g clip-path="url(#c3)"><g filter="url(#bl)">
<path d="M631.1 657.3 C631.5 655.1 634.4 650.3 636.7 647.5 C639.0 644.7 641.8 642.1 645.1 640.5 C648.4 638.9 651.6 638.5 656.3 637.7 C661.0 637.0 666.9 636.4 673.2 636.0 C679.5 635.6 687.0 635.2 694.2 635.2 C701.5 635.2 709.1 635.6 716.7 636.0 C724.3 636.4 732.3 637.0 740.0 637.7 C747.7 638.4 754.5 639.3 763.0 640.2 C771.5 641.1 781.8 642.3 791.2 643.3 C800.6 644.3 812.7 645.4 819.2 646.1 C825.7 646.8 827.1 647.0 830.0 647.4 C832.9 647.8 834.9 648.0 836.5 648.3 C838.1 648.6 839.3 648.8 839.8 649.4 C840.3 650.0 840.0 651.0 839.4 651.6 C838.8 652.2 837.4 652.9 836.2 653.0 C835.0 653.1 833.7 652.3 832.0 652.2 C830.3 652.1 828.1 652.3 826.0 652.3 C823.9 652.3 825.0 652.4 819.2 652.4 C813.4 652.4 800.6 652.3 791.2 652.4 C781.8 652.5 771.5 652.9 763.0 652.9 C754.5 652.9 746.8 652.4 740.0 652.4 C733.2 652.4 726.6 652.6 722.3 653.1 C717.9 653.6 716.7 654.1 713.9 655.2 C711.1 656.3 708.8 658.2 705.5 659.5 C702.2 660.8 698.4 662.1 694.2 663.0 C690.0 663.9 684.9 664.1 680.2 664.6 C675.5 665.1 670.9 665.6 666.2 665.8 C661.5 666.0 656.1 666.0 652.1 665.8 C648.1 665.6 645.2 665.2 642.3 664.4 C639.4 663.6 636.5 662.1 634.6 660.9 C632.7 659.7 630.8 659.5 631.1 657.3Z" fill="url(#tr1)" stroke="#2b2b2b" stroke-width="1.1" stroke-linejoin="round"/>
<path d="M672.0 640.5 C676.2 639.6 688.7 639.1 700.0 639.3 C711.3 639.5 725.0 640.4 740.0 641.5 C755.0 642.6 775.0 644.5 790.0 645.8 C805.0 647.1 830.0 648.8 830.0 649.5 C830.0 650.2 805.0 650.0 790.0 649.8 C775.0 649.6 754.2 648.8 740.0 648.2 C725.8 647.6 715.8 646.9 705.0 646.3 C694.2 645.7 680.5 645.5 675.0 644.5 C669.5 643.5 667.8 641.4 672.0 640.5Z" fill="#d0d0d0" opacity="0.55"/>
<path d="M656.0 656.0 C660.2 653.7 667.7 652.2 675.0 651.0 C682.3 649.8 692.2 648.3 700.0 648.5 C707.8 648.7 720.7 650.5 722.0 652.0 C723.3 653.5 713.3 655.8 708.0 657.5 C702.7 659.2 696.7 660.8 690.0 662.0 C683.3 663.2 674.7 664.0 668.0 664.5 C661.3 665.0 652.0 666.4 650.0 665.0 C648.0 663.6 651.8 658.3 656.0 656.0Z" fill="#8a8a8a" opacity="0.8"/>
<path d="M656.0 655.0 C658.0 654.4 663.5 652.7 668.0 651.5 C672.5 650.3 677.7 648.3 683.0 648.0 C688.3 647.7 694.5 649.1 700.0 649.8 C705.5 650.5 709.3 651.7 716.0 652.2 C722.7 652.7 732.2 652.5 740.0 652.6 C747.8 652.7 754.7 652.9 763.0 652.9 C771.3 652.9 785.5 652.6 790.0 652.5" fill="none" stroke="#2a2a2a" stroke-width="1.2" opacity="0.9"/>
<path d="M700.0 640.3 C706.7 640.6 725.0 641.3 740.0 642.3 C755.0 643.3 775.0 645.0 790.0 646.2 C805.0 647.4 823.3 649.0 830.0 649.6" fill="none" stroke="#3a3a3a" stroke-width="1" stroke-dasharray="1.2 3.2" opacity="0.9"/>
<path d="M705.0 644.6 C710.8 644.9 725.8 645.7 740.0 646.5 C754.2 647.3 775.8 648.5 790.0 649.2 C804.2 650.0 819.2 650.7 825.0 651.0" fill="none" stroke="#555" stroke-width="0.9" stroke-dasharray="1.2 3.6" opacity="0.9"/>
<ellipse cx="692" cy="648.3" rx="11" ry="3.0" fill="#2e2e2e" opacity="0.85"/>
<path d="M648.0 665.6 C651.3 665.5 661.0 665.6 668.0 665.2 C675.0 664.8 684.0 664.2 690.0 663.3 C696.0 662.4 700.0 661.0 704.0 659.6 C708.0 658.2 712.3 655.9 714.0 655.2" fill="none" stroke="#1f1f1f" stroke-width="1.6"/>
<ellipse cx="642" cy="660" rx="9.5" ry="6" fill="#1e1e1e" opacity="0.9" filter="url(#bl2)"/>
<ellipse cx="645.8" cy="652.4" rx="9.6" ry="9.2" fill="#0c0c0c"/>
</g></g>
<g clip-path="url(#c2)"><g filter="url(#bl)">
<path d="M640.2 553.7 C640.2 551.5 641.2 549.2 642.3 546.7 C643.3 544.2 644.9 540.6 646.5 539.0 C648.1 537.4 649.3 537.0 652.1 536.8 C654.9 536.5 660.0 536.5 663.3 537.5 C666.6 538.5 668.5 540.7 671.8 542.5 C675.1 544.3 679.3 546.4 683.0 548.1 C686.7 549.9 690.0 551.6 694.2 553.0 C698.4 554.4 703.6 555.5 708.3 556.5 C713.0 557.5 717.0 558.4 722.3 559.0 C727.6 559.6 733.2 560.2 740.0 560.3 C746.8 560.3 754.5 559.8 763.0 559.3 C771.5 558.8 781.8 558.2 791.2 557.6 C800.6 557.0 812.4 556.2 819.2 555.8 C826.0 555.4 829.3 554.9 831.9 555.1 C834.5 555.3 834.6 556.2 834.6 556.8 C834.6 557.4 834.5 557.8 831.9 558.6 C829.3 559.4 823.7 560.4 819.2 561.4 C814.8 562.4 809.9 563.7 805.2 564.9 C800.5 566.1 795.9 567.2 791.2 568.4 C786.5 569.6 781.8 570.5 777.1 572.0 C772.4 573.5 766.5 576.0 763.0 577.6 C759.5 579.2 758.3 580.6 756.0 581.8 C753.7 583.0 751.7 584.1 749.0 584.9 C746.3 585.7 743.3 585.8 740.0 586.4 C736.7 587.0 732.7 588.0 729.3 588.8 C725.9 589.5 723.0 590.2 719.5 590.9 C716.0 591.5 711.6 591.9 708.3 592.7 C705.0 593.5 703.1 595.0 699.8 595.8 C696.5 596.5 692.6 597.1 688.6 597.2 C684.6 597.3 679.7 597.2 676.0 596.5 C672.3 595.8 669.5 594.3 666.2 593.0 C662.9 591.7 659.6 590.7 656.3 588.8 C653.0 586.9 648.7 584.4 646.5 581.8 C644.3 579.2 643.4 575.9 643.0 573.3 C642.6 570.7 644.5 568.5 644.4 566.3 C644.3 564.1 643.2 562.1 642.5 560.0 C641.8 557.9 640.2 555.9 640.2 553.7Z" fill="#9a9a9a" stroke="#2b2b2b" stroke-width="1"/>
<path d="M683.0 551.0 C683.5 549.7 693.5 554.9 700.0 556.5 C706.5 558.1 715.3 559.6 722.0 560.5 C728.7 561.4 733.2 561.8 740.0 561.8 C746.8 561.8 754.5 561.3 763.0 560.8 C771.5 560.3 781.7 559.6 791.0 559.0 C800.3 558.4 812.3 557.5 819.0 557.0 C825.7 556.5 831.0 555.8 831.0 556.3 C831.0 556.8 824.2 558.7 819.0 560.0 C813.8 561.3 806.5 562.9 800.0 564.2 C793.5 565.5 786.7 566.9 780.0 568.0 C773.3 569.1 766.7 570.1 760.0 570.6 C753.3 571.1 747.7 571.2 740.0 571.0 C732.3 570.8 721.2 570.6 714.0 569.5 C706.8 568.4 702.2 567.6 697.0 564.5 C691.8 561.4 682.5 552.3 683.0 551.0Z" fill="url(#tr2)"/>
<path d="M697.0 565.0 C698.4 563.1 704.5 566.5 708.3 567.7 C712.0 568.9 714.2 571.0 719.5 572.0 C724.8 573.0 735.1 573.3 740.0 574.0 C744.9 574.7 745.2 575.4 749.0 576.0 C752.8 576.6 763.0 576.1 763.0 577.6 C763.0 579.1 752.8 583.6 749.0 585.0 C745.2 586.4 744.2 585.2 740.0 586.0 C735.8 586.8 729.5 588.6 724.0 589.5 C718.5 590.4 710.9 593.4 706.9 591.6 C702.9 589.9 701.4 583.4 699.8 579.0 C698.1 574.6 695.6 566.9 697.0 565.0Z" fill="#7c7c7c"/>
<path d="M738.0 571.5 C739.7 570.7 753.0 571.3 760.0 570.8 C767.0 570.3 773.3 569.5 780.0 568.5 C786.7 567.5 798.3 564.4 800.0 564.5 C801.7 564.6 793.8 567.5 790.0 569.0 C786.2 570.5 781.5 572.2 777.0 573.5 C772.5 574.8 767.5 576.7 763.0 577.0 C758.5 577.3 754.2 576.4 750.0 575.5 C745.8 574.6 736.3 572.3 738.0 571.5Z" fill="#e4e4e4"/>
<path d="M644.4 566.3 C643.8 568.0 642.6 570.7 643.0 573.3 C643.4 575.9 644.3 579.2 646.5 581.8 C648.7 584.4 653.0 586.9 656.3 588.8 C659.6 590.7 662.9 591.8 666.2 593.0 C669.5 594.2 672.3 595.6 676.0 596.2 C679.7 596.8 684.6 596.8 688.6 596.6 C692.6 596.4 696.8 595.9 699.8 595.0 C702.8 594.1 705.4 592.7 706.3 591.2 C707.2 589.7 706.3 588.0 705.2 586.0 C704.1 584.0 702.6 581.6 699.8 579.0 C697.0 576.4 693.0 573.2 688.6 570.5 C684.2 567.8 678.6 564.5 673.2 563.0 C667.8 561.5 660.8 561.6 656.3 561.6 C651.8 561.6 648.5 562.0 646.5 562.8 C644.5 563.6 645.0 564.5 644.4 566.3Z" fill="#ececec" stroke="#555" stroke-width="0.6"/>
<path d="M648.0 556.0 C648.3 554.7 655.5 552.8 660.0 552.0 C664.5 551.2 670.0 550.3 675.0 551.0 C680.0 551.7 685.8 554.1 690.0 556.0 C694.2 557.9 697.3 560.3 700.0 562.5 C702.7 564.7 706.5 567.6 706.0 569.0 C705.5 570.4 700.3 571.5 697.0 571.0 C693.7 570.5 690.0 567.7 686.0 566.0 C682.0 564.3 677.7 562.0 673.0 561.0 C668.3 560.0 662.2 560.8 658.0 560.0 C653.8 559.2 647.7 557.3 648.0 556.0Z" fill="#4a4a4a" opacity="0.9"/>
<path d="M640.4 553.5 C639.9 551.4 641.3 549.1 642.3 546.7 C643.3 544.3 644.9 540.8 646.5 539.2 C648.1 537.6 649.3 537.2 652.1 537.0 C654.9 536.8 660.0 536.8 663.3 537.7 C666.6 538.7 668.5 540.9 671.8 542.7 C675.1 544.5 680.0 546.5 683.0 548.3 C686.0 550.1 690.5 552.2 690.0 553.5 C689.5 554.8 683.7 555.4 680.0 556.0 C676.3 556.6 672.2 556.4 668.0 557.0 C663.8 557.6 658.8 559.1 655.0 559.5 C651.2 559.9 647.4 560.5 645.0 559.5 C642.6 558.5 640.9 555.6 640.4 553.5Z" fill="#4e4e4e"/>
<ellipse cx="652.2" cy="545.6" rx="7.2" ry="6.6" fill="#0c0c0c"/>
<ellipse cx="645" cy="554" rx="4.5" ry="4" fill="#1d1d1d"/>
<ellipse cx="671.9" cy="572.2" rx="1.5" ry="1.2" fill="#1c1c1c" opacity="0.68"/><ellipse cx="681.7" cy="580.3" rx="0.8" ry="0.7" fill="#1c1c1c" opacity="0.83"/><ellipse cx="661.2" cy="574.0" rx="0.9" ry="0.7" fill="#1c1c1c" opacity="0.73"/><ellipse cx="685.9" cy="593.6" rx="1.4" ry="1.1" fill="#1c1c1c" opacity="0.79"/><ellipse cx="701.9" cy="579.6" rx="1.7" ry="1.4" fill="#1c1c1c" opacity="0.75"/><ellipse cx="694.5" cy="579.6" rx="1.4" ry="1.1" fill="#1c1c1c" opacity="0.87"/><ellipse cx="674.1" cy="582.2" rx="0.8" ry="0.7" fill="#1c1c1c" opacity="0.67"/><ellipse cx="666.5" cy="581.9" rx="1.2" ry="1.0" fill="#1c1c1c" opacity="0.76"/><ellipse cx="683.9" cy="582.8" rx="1.1" ry="0.9" fill="#1c1c1c" opacity="0.93"/><ellipse cx="689.2" cy="579.6" rx="1.4" ry="1.1" fill="#1c1c1c" opacity="0.83"/><ellipse cx="697.3" cy="588.0" rx="1.1" ry="0.9" fill="#1c1c1c" opacity="0.99"/><ellipse cx="662.4" cy="574.4" rx="0.9" ry="0.7" fill="#1c1c1c" opacity="0.82"/><ellipse cx="658.8" cy="578.1" rx="1.4" ry="1.1" fill="#1c1c1c" opacity="0.96"/><ellipse cx="671.4" cy="584.5" rx="1.4" ry="1.1" fill="#1c1c1c" opacity="0.85"/><ellipse cx="678.0" cy="590.9" rx="1.8" ry="1.5" fill="#1c1c1c" opacity="0.82"/><ellipse cx="687.6" cy="575.4" rx="1.5" ry="1.2" fill="#1c1c1c" opacity="0.88"/><ellipse cx="702.7" cy="587.7" rx="1.1" ry="0.9" fill="#1c1c1c" opacity="0.79"/><ellipse cx="687.8" cy="574.7" rx="1.3" ry="1.0" fill="#1c1c1c" opacity="0.71"/><ellipse cx="662.4" cy="566.6" rx="0.9" ry="0.7" fill="#1c1c1c" opacity="0.74"/><ellipse cx="675.0" cy="590.2" rx="0.8" ry="0.7" fill="#1c1c1c" opacity="0.81"/><ellipse cx="682.3" cy="592.1" rx="1.7" ry="1.3" fill="#1c1c1c" opacity="0.95"/><ellipse cx="669.8" cy="577.4" rx="1.2" ry="0.9" fill="#1c1c1c" opacity="0.96"/><ellipse cx="701.1" cy="580.5" rx="0.9" ry="0.8" fill="#1c1c1c" opacity="0.73"/><ellipse cx="667.7" cy="578.1" rx="1.4" ry="1.1" fill="#1c1c1c" opacity="0.74"/><ellipse cx="683.1" cy="593.7" rx="1.5" ry="1.2" fill="#1c1c1c" opacity="0.83"/><ellipse cx="685.4" cy="587.8" rx="0.8" ry="0.6" fill="#1c1c1c" opacity="0.96"/><ellipse cx="692.9" cy="591.7" rx="1.6" ry="1.3" fill="#1c1c1c" opacity="0.79"/><ellipse cx="675.4" cy="572.3" rx="1.5" ry="1.2" fill="#1c1c1c" opacity="0.67"/><ellipse cx="672.6" cy="570.2" rx="0.8" ry="0.6" fill="#1c1c1c" opacity="0.70"/><ellipse cx="697.2" cy="586.4" rx="0.9" ry="0.7" fill="#1c1c1c" opacity="0.74"/><ellipse cx="673.0" cy="577.5" rx="0.9" ry="0.7" fill="#1c1c1c" opacity="0.95"/><ellipse cx="702.7" cy="584.1" rx="1.3" ry="1.0" fill="#1c1c1c" opacity="0.68"/><ellipse cx="695.1" cy="579.4" rx="0.8" ry="0.6" fill="#1c1c1c" opacity="0.98"/><ellipse cx="681.3" cy="575.3" rx="1.4" ry="1.1" fill="#1c1c1c" opacity="0.66"/><ellipse cx="681.3" cy="594.2" rx="1.7" ry="1.4" fill="#1c1c1c" opacity="0.89"/><ellipse cx="669.0" cy="575.9" rx="0.9" ry="0.8" fill="#1c1c1c" opacity="0.92"/><ellipse cx="681.5" cy="589.7" rx="1.1" ry="0.9" fill="#1c1c1c" opacity="0.73"/><ellipse cx="694.3" cy="593.0" rx="1.7" ry="1.4" fill="#1c1c1c" opacity="0.93"/><ellipse cx="694.6" cy="588.8" rx="1.0" ry="0.8" fill="#1c1c1c" opacity="0.83"/><ellipse cx="673.4" cy="569.9" rx="0.8" ry="0.6" fill="#1c1c1c" opacity="0.75"/><ellipse cx="668.9" cy="583.3" rx="1.8" ry="1.5" fill="#1c1c1c" opacity="0.81"/><ellipse cx="700.1" cy="590.5" rx="1.8" ry="1.5" fill="#1c1c1c" opacity="0.78"/><ellipse cx="667.1" cy="572.1" rx="1.0" ry="0.8" fill="#1c1c1c" opacity="0.72"/><ellipse cx="685.7" cy="592.6" rx="1.7" ry="1.4" fill="#1c1c1c" opacity="0.82"/><ellipse cx="687.0" cy="590.5" rx="0.8" ry="0.7" fill="#1c1c1c" opacity="0.88"/><ellipse cx="698.8" cy="588.4" rx="1.6" ry="1.3" fill="#1c1c1c" opacity="0.82"/><ellipse cx="665.2" cy="583.7" rx="1.1" ry="0.9" fill="#1c1c1c" opacity="0.93"/><ellipse cx="701.7" cy="583.4" rx="1.2" ry="1.0" fill="#1c1c1c" opacity="0.98"/><ellipse cx="690.3" cy="578.5" rx="0.9" ry="0.7" fill="#1c1c1c" opacity="0.70"/><ellipse cx="698.6" cy="588.7" rx="0.9" ry="0.7" fill="#1c1c1c" opacity="0.94"/><ellipse cx="702.1" cy="586.1" rx="1.1" ry="0.9" fill="#1c1c1c" opacity="0.84"/><ellipse cx="663.0" cy="565.9" rx="1.5" ry="1.2" fill="#1c1c1c" opacity="0.83"/><ellipse cx="699.9" cy="583.8" rx="1.7" ry="1.4" fill="#1c1c1c" opacity="0.94"/><ellipse cx="666.7" cy="572.5" rx="1.1" ry="0.9" fill="#1c1c1c" opacity="0.73"/><ellipse cx="684.0" cy="578.5" rx="1.2" ry="1.0" fill="#1c1c1c" opacity="0.70"/><ellipse cx="698.9" cy="582.7" rx="1.3" ry="1.0" fill="#1c1c1c" opacity="0.85"/><ellipse cx="698.6" cy="583.6" rx="1.8" ry="1.4" fill="#1c1c1c" opacity="0.83"/><ellipse cx="681.5" cy="583.9" rx="0.8" ry="0.6" fill="#1c1c1c" opacity="0.80"/><ellipse cx="665.4" cy="566.5" rx="1.6" ry="1.3" fill="#1c1c1c" opacity="0.71"/><ellipse cx="678.8" cy="588.2" rx="1.4" ry="1.1" fill="#1c1c1c" opacity="0.76"/><ellipse cx="680.8" cy="584.5" rx="1.6" ry="1.3" fill="#1c1c1c" opacity="0.69"/><ellipse cx="682.8" cy="578.0" rx="1.1" ry="0.8" fill="#1c1c1c" opacity="0.92"/><ellipse cx="680.4" cy="584.6" rx="1.6" ry="1.3" fill="#1c1c1c" opacity="0.97"/><ellipse cx="677.4" cy="585.2" rx="1.3" ry="1.1" fill="#1c1c1c" opacity="0.83"/><ellipse cx="688.9" cy="583.7" rx="1.3" ry="1.1" fill="#1c1c1c" opacity="0.82"/><ellipse cx="700.3" cy="587.0" rx="1.7" ry="1.4" fill="#1c1c1c" opacity="0.98"/><ellipse cx="668.9" cy="580.3" rx="1.8" ry="1.4" fill="#1c1c1c" opacity="0.94"/><ellipse cx="687.8" cy="590.3" rx="1.8" ry="1.4" fill="#1c1c1c" opacity="0.70"/><ellipse cx="689.9" cy="588.0" rx="0.9" ry="0.7" fill="#1c1c1c" opacity="0.96"/><ellipse cx="701.5" cy="581.4" rx="1.8" ry="1.5" fill="#1c1c1c" opacity="0.79"/><ellipse cx="679.4" cy="594.5" rx="1.7" ry="1.3" fill="#1c1c1c" opacity="0.71"/><ellipse cx="676.9" cy="582.7" rx="1.1" ry="0.9" fill="#1c1c1c" opacity="0.72"/><ellipse cx="671.7" cy="585.2" rx="0.8" ry="0.6" fill="#1c1c1c" opacity="0.84"/><ellipse cx="677.3" cy="571.0" rx="1.1" ry="0.9" fill="#1c1c1c" opacity="0.87"/><ellipse cx="680.6" cy="573.2" rx="1.9" ry="1.5" fill="#1c1c1c" opacity="0.93"/><ellipse cx="701.7" cy="580.2" rx="1.0" ry="0.8" fill="#1c1c1c" opacity="0.66"/><ellipse cx="692.8" cy="580.8" rx="0.9" ry="0.7" fill="#1c1c1c" opacity="0.80"/><ellipse cx="698.9" cy="588.8" rx="1.0" ry="0.8" fill="#1c1c1c" opacity="0.70"/><ellipse cx="699.3" cy="585.5" rx="1.5" ry="1.2" fill="#1c1c1c" opacity="0.68"/><ellipse cx="660.3" cy="584.6" rx="1.7" ry="1.3" fill="#1c1c1c" opacity="0.68"/><ellipse cx="696.4" cy="578.2" rx="1.7" ry="1.4" fill="#1c1c1c" opacity="0.81"/><ellipse cx="672.6" cy="581.7" rx="1.8" ry="1.4" fill="#1c1c1c" opacity="0.74"/><ellipse cx="666.3" cy="573.6" rx="1.1" ry="0.9" fill="#1c1c1c" opacity="0.92"/><ellipse cx="670.3" cy="579.5" rx="1.0" ry="0.8" fill="#1c1c1c" opacity="0.77"/><ellipse cx="690.7" cy="586.1" rx="1.0" ry="0.8" fill="#1c1c1c" opacity="0.82"/><ellipse cx="700.0" cy="579.8" rx="1.7" ry="1.3" fill="#1c1c1c" opacity="0.80"/><ellipse cx="679.8" cy="590.8" rx="1.2" ry="1.0" fill="#1c1c1c" opacity="0.83"/><ellipse cx="688.6" cy="594.3" rx="1.1" ry="0.9" fill="#1c1c1c" opacity="0.94"/><ellipse cx="689.5" cy="587.5" rx="1.2" ry="1.0" fill="#1c1c1c" opacity="0.77"/><ellipse cx="691.1" cy="580.3" rx="0.9" ry="0.7" fill="#1c1c1c" opacity="0.68"/><ellipse cx="695.7" cy="590.6" rx="1.5" ry="1.2" fill="#1c1c1c" opacity="0.75"/><ellipse cx="668.1" cy="573.9" rx="1.3" ry="1.0" fill="#1c1c1c" opacity="0.71"/><ellipse cx="677.5" cy="576.9" rx="1.8" ry="1.5" fill="#1c1c1c" opacity="0.99"/><ellipse cx="682.2" cy="577.7" rx="1.8" ry="1.5" fill="#1c1c1c" opacity="0.76"/><ellipse cx="673.4" cy="569.2" rx="1.2" ry="0.9" fill="#1c1c1c" opacity="0.82"/><ellipse cx="680.1" cy="576.2" rx="1.3" ry="1.1" fill="#1c1c1c" opacity="0.65"/><ellipse cx="669.2" cy="569.8" rx="1.2" ry="1.0" fill="#1c1c1c" opacity="0.66"/><ellipse cx="683.9" cy="584.4" rx="1.6" ry="1.3" fill="#1c1c1c" opacity="0.88"/><ellipse cx="689.9" cy="592.3" rx="1.2" ry="1.0" fill="#1c1c1c" opacity="0.76"/><ellipse cx="702.3" cy="580.8" rx="1.6" ry="1.3" fill="#1c1c1c" opacity="0.88"/><ellipse cx="659.0" cy="581.8" rx="1.5" ry="1.2" fill="#1c1c1c" opacity="0.91"/><ellipse cx="694.4" cy="578.8" rx="1.3" ry="1.1" fill="#1c1c1c" opacity="0.83"/><ellipse cx="695.4" cy="589.7" rx="1.7" ry="1.3" fill="#1c1c1c" opacity="0.85"/><ellipse cx="698.1" cy="587.2" rx="1.5" ry="1.2" fill="#1c1c1c" opacity="0.73"/><ellipse cx="661.8" cy="583.1" rx="1.5" ry="1.2" fill="#1c1c1c" opacity="0.87"/><ellipse cx="688.3" cy="584.3" rx="0.8" ry="0.6" fill="#1c1c1c" opacity="0.93"/><ellipse cx="691.4" cy="585.1" rx="1.4" ry="1.1" fill="#1c1c1c" opacity="0.88"/><ellipse cx="660.4" cy="570.3" rx="1.0" ry="0.8" fill="#1c1c1c" opacity="0.91"/><ellipse cx="701.9" cy="584.4" rx="1.2" ry="0.9" fill="#1c1c1c" opacity="0.82"/><ellipse cx="688.5" cy="590.0" rx="1.4" ry="1.2" fill="#1c1c1c" opacity="0.87"/><ellipse cx="691.2" cy="581.3" rx="1.4" ry="1.1" fill="#1c1c1c" opacity="0.65"/><ellipse cx="659.8" cy="570.1" rx="1.5" ry="1.2" fill="#1c1c1c" opacity="0.89"/><ellipse cx="670.4" cy="579.9" rx="1.3" ry="1.0" fill="#1c1c1c" opacity="0.81"/><ellipse cx="702.0" cy="589.1" rx="0.8" ry="0.6" fill="#1c1c1c" opacity="0.81"/><ellipse cx="694.7" cy="592.6" rx="1.3" ry="1.0" fill="#1c1c1c" opacity="0.74"/><ellipse cx="666.7" cy="587.8" rx="1.0" ry="0.8" fill="#1c1c1c" opacity="0.85"/><ellipse cx="663.5" cy="577.1" rx="0.9" ry="0.7" fill="#1c1c1c" opacity="0.94"/><ellipse cx="680.4" cy="592.1" rx="1.5" ry="1.2" fill="#1c1c1c" opacity="0.73"/><ellipse cx="698.3" cy="584.5" rx="0.8" ry="0.6" fill="#1c1c1c" opacity="0.65"/><ellipse cx="679.6" cy="581.9" rx="1.1" ry="0.9" fill="#1c1c1c" opacity="0.70"/><ellipse cx="672.8" cy="576.3" rx="1.7" ry="1.4" fill="#1c1c1c" opacity="0.65"/><ellipse cx="691.5" cy="591.5" rx="0.9" ry="0.7" fill="#1c1c1c" opacity="0.97"/>
<circle cx="782.8" cy="569.2" r="0.7" fill="#1c1c1c"/><circle cx="762.3" cy="571.9" r="1.1" fill="#1c1c1c"/><circle cx="775.4" cy="567.9" r="0.8" fill="#1c1c1c"/><circle cx="756.5" cy="571.2" r="0.6" fill="#1c1c1c"/><circle cx="790.1" cy="565.5" r="1.1" fill="#1c1c1c"/><circle cx="755.0" cy="572.3" r="0.8" fill="#1c1c1c"/><circle cx="751.4" cy="573.3" r="1.1" fill="#1c1c1c"/><circle cx="793.1" cy="567.4" r="0.9" fill="#1c1c1c"/><circle cx="794.8" cy="567.7" r="0.8" fill="#1c1c1c"/><circle cx="783.2" cy="565.4" r="0.9" fill="#1c1c1c"/><circle cx="767.1" cy="570.8" r="0.9" fill="#1c1c1c"/><circle cx="757.2" cy="571.1" r="1.1" fill="#1c1c1c"/><circle cx="747.6" cy="574.3" r="0.7" fill="#1c1c1c"/><circle cx="757.9" cy="574.0" r="1.1" fill="#1c1c1c"/><circle cx="755.6" cy="574.0" r="0.7" fill="#1c1c1c"/><circle cx="773.4" cy="568.3" r="0.6" fill="#1c1c1c"/><circle cx="749.7" cy="572.8" r="1.0" fill="#1c1c1c"/><circle cx="769.8" cy="568.0" r="1.0" fill="#1c1c1c"/><circle cx="799.8" cy="564.8" r="0.6" fill="#1c1c1c"/><circle cx="751.5" cy="572.1" r="0.7" fill="#1c1c1c"/><circle cx="745.5" cy="573.6" r="0.7" fill="#1c1c1c"/><circle cx="774.2" cy="570.4" r="0.9" fill="#1c1c1c"/><circle cx="764.8" cy="571.6" r="0.8" fill="#1c1c1c"/><circle cx="762.6" cy="571.6" r="0.5" fill="#1c1c1c"/><circle cx="756.7" cy="575.2" r="0.6" fill="#1c1c1c"/><circle cx="770.2" cy="569.8" r="1.0" fill="#1c1c1c"/><circle cx="753.0" cy="572.7" r="0.6" fill="#1c1c1c"/><circle cx="764.0" cy="571.9" r="1.1" fill="#1c1c1c"/><circle cx="790.9" cy="567.9" r="0.5" fill="#1c1c1c"/><circle cx="741.9" cy="576.1" r="1.0" fill="#1c1c1c"/><circle cx="768.4" cy="569.9" r="0.5" fill="#1c1c1c"/><circle cx="763.5" cy="574.1" r="1.0" fill="#1c1c1c"/><circle cx="791.3" cy="568.3" r="0.6" fill="#1c1c1c"/><circle cx="746.5" cy="573.1" r="0.8" fill="#1c1c1c"/>
<path d="M800 566.2 L832 558.4" stroke="#222" stroke-width="1.3" stroke-dasharray="1.5 1.8" fill="none"/>
<path d="M690 552 C705 557 722 560 740 561 C763 560.6 800 558 833 555.6" stroke="#262626" stroke-width="1.15" fill="none"/>
<path d="M700 563 C712 567.5 728 569.2 745 568.6 C765 567.8 790 563.5 812 559.5" stroke="#5a5a5a" stroke-width="1.2" fill="none"/>
</g></g>
<path d="M653.8 574.6 L628.8 584.8 L637.6 587.9 L620.2 603.8 L624.2 607 L641.2 591.6 L643.2 599.2 Z" fill="#0a0a0a"/>
<rect x="832" y="515.2" width="27.7" height="2.2" fill="#111"/>
<rect x="832" y="600" width="27.7" height="2.2" fill="#111"/>
<rect x="831.5" y="685.4" width="28" height="2.2" fill="#111"/>
</g>
</svg></body></html>
